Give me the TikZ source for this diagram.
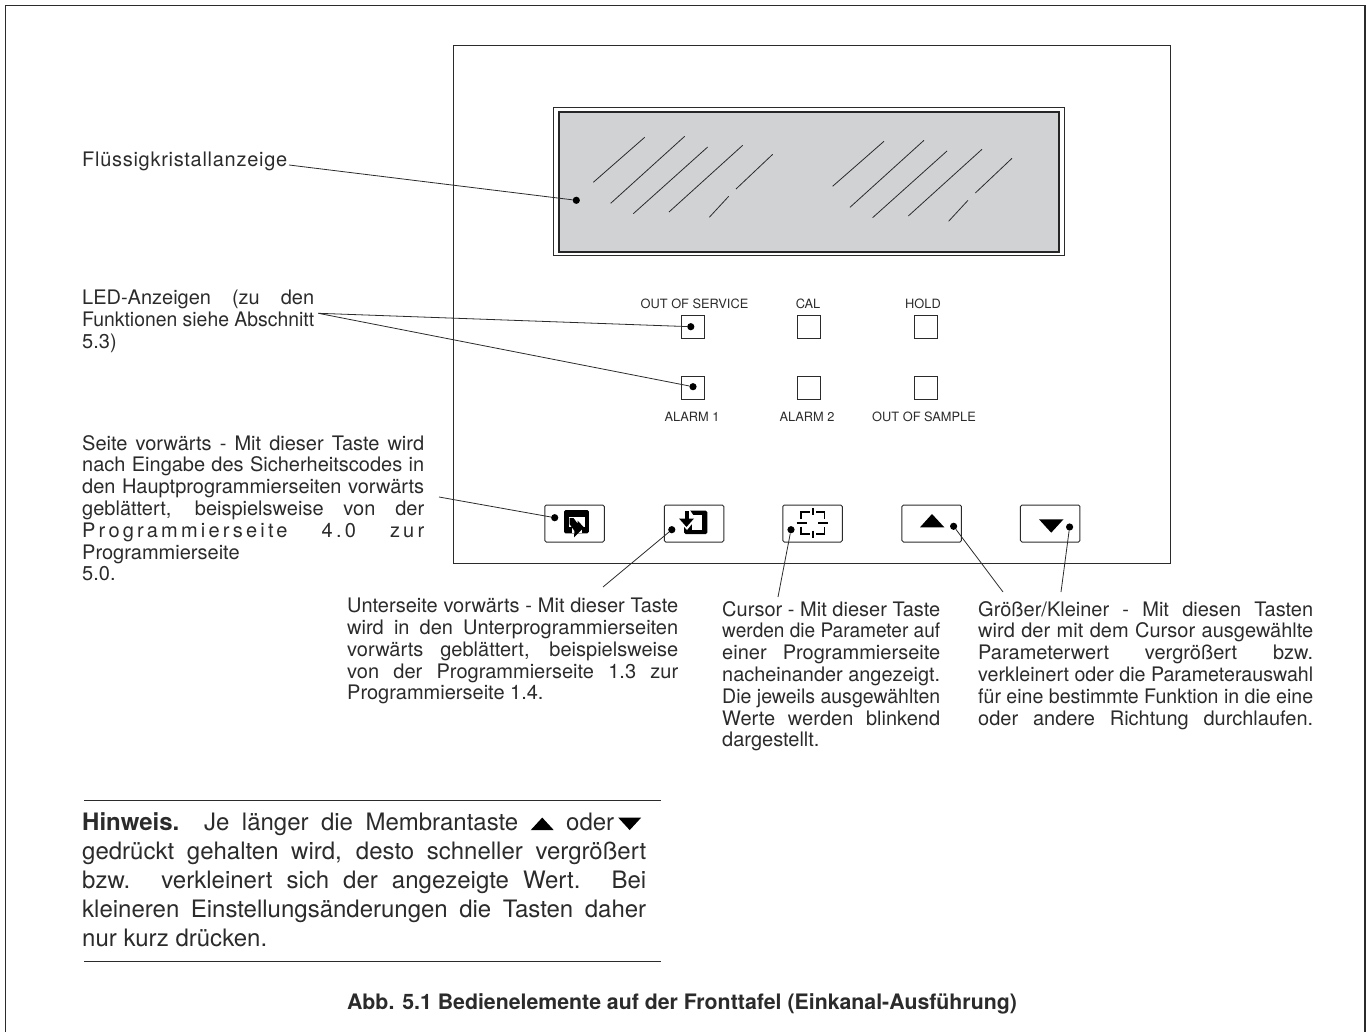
\documentclass[tikz,border=0pt]{standalone}
\usepackage{graphicx}
\usepackage{fontspec}
\setmainfont{TeX Gyre Heros}
\definecolor{lcdgray}{HTML}{D1D2D4}
\definecolor{inkgray}{HTML}{2B2B2B}
\newcommand{\looseset}{\tolerance=9999\relax\hbadness=10000\relax\hyphenpenalty=10000\relax}
\newcommand{\uptri}{\tikz[baseline=0pt,x=1pt,y=1pt]\fill[black] (0,0) -- (23,0) -- (11.5,12.5) -- cycle;}
\newcommand{\downtri}{\tikz[baseline=0pt,x=1pt,y=1pt]\fill[black] (0,12.5) -- (23,12.5) -- (11.5,0) -- cycle;}
\newsavebox\fitbox
\newcommand{\fitline}[1]{\sbox\fitbox{#1}\ifdim\wd\fitbox>\hsize\resizebox{\hsize}{\height}{\usebox\fitbox}\else\hbox to\hsize{#1}\fi}
\tikzset{
  bodytext/.style={anchor=north west,inner sep=0pt,align=justify,text=inkgray,
    font=\fontsize{20}{21.8}\selectfont\looseset},
  ledlabel/.style={inner sep=0pt,text=inkgray,font=\fontsize{12.8}{14}\selectfont},
  leddot/.style={circle,fill=black,inner sep=0pt,minimum size=7.2pt},
  ledbox/.style={rectangle,draw=inkgray,line width=0.9pt,inner sep=0pt,minimum size=23pt},
  keybox/.style={rectangle,rounded corners=1.5pt,draw=inkgray,line width=1pt,inner sep=0pt,
    minimum width=59.5pt,minimum height=37pt},
  leader/.style={draw=inkgray,line width=0.8pt},
  scratch/.style={draw=inkgray,line width=0.8pt},
  crossline/.style={draw=black,line width=1.7pt}
}
\begin{document}
\begin{tikzpicture}[x=1pt,y=-1pt]
\useasboundingbox (0,0) rectangle (1366,1032);

% page frame
\draw[inkgray,line width=1.6pt] (5.5,1032) -- (5.5,5.5) -- (1365,5.5) -- (1365,1032);

% panel
\draw[inkgray,line width=1pt] (453,46) rectangle (1170,563);

% liquid crystal display
\draw[inkgray,line width=0.9pt] (553.5,107.5) rectangle (1064,255.7);
\draw[black!85,line width=2pt,fill=lcdgray] (559,111.7) rectangle (1058.5,251.7);

% scratches, left group
\draw[scratch] (593.3,182.3) -- (644.7,137.3);
\draw[scratch] (610.7,203.3) -- (684.7,136.3);
\draw[scratch] (633.3,213.7) -- (707.7,147);
\draw[scratch] (669,212) -- (742.7,145.3);
\draw[scratch] (736,189) -- (772.7,154.3);
\draw[scratch] (709.3,217.3) -- (728.7,196.3);

% scratches, right group
\draw[scratch] (832.6,186.3) -- (884,141.3);
\draw[scratch] (850,207.3) -- (924,140.3);
\draw[scratch] (872.6,217.7) -- (947,151);
\draw[scratch] (908.3,216) -- (982,149.3);
\draw[scratch] (975.3,193) -- (1012,158.3);
\draw[scratch] (948.6,221.3) -- (968,200.3);

% led boxes
\node[ledbox] (ledservice) at (693,326.7) {};
\node[ledbox] (ledcal) at (809,326.7) {};
\node[ledbox] (ledhold) at (925.5,326.7) {};
\node[ledbox] (ledalarma) at (693,388) {};
\node[ledbox] (ledalarmb) at (809,388) {};
\node[ledbox] (ledsample) at (925.5,388) {};

% led labels
\node[ledlabel] (txtservice) at (694.5,303.5) {OUT OF SERVICE};
\node[ledlabel] (txtcal) at (808,303.5) {CAL};
\node[ledlabel] (txthold) at (923,303.5) {HOLD};
\node[ledlabel] (txtalarma) at (692,417) {ALARM 1};
\node[ledlabel] (txtalarmb) at (807,417) {ALARM 2};
\node[ledlabel] (txtsample) at (924,417) {OUT OF SAMPLE};

% keys
\node[keybox] (keypage) at (574.5,523.5) {};
\node[keybox] (keysub) at (694,523.5) {};
\node[keybox] (keycursor) at (812.5,523.5) {};
\node[keybox] (keyup) at (931.7,523.5) {};
\node[keybox] (keydown) at (1050.2,523.5) {};

% page key icon
\fill[black,rounded corners=1.5pt] (564,510) rectangle (588.8,533.3);
\fill[white] (568.5,516.7) rectangle (584.5,527);
\fill[white] (572,526) rectangle (582,533.4);
\fill[black] (569.5,518) -- (573.5,518) -- (577.5,523.5) -- (577.5,520.5) -- (584,527.5)
  -- (574,537.3) -- (574.5,531) -- (569.5,524) -- cycle;

% sub page key icon
\fill[black,rounded corners=1.5pt] (684,510.7) rectangle (707.4,534);
\fill[white] (691.5,514.5) rectangle (702,529.5);
\fill[white] (678,509) -- (689,509) -- (696,519) -- (687,530) -- (678,520) -- cycle;
\fill[black] (684.5,511) rectangle (688.5,518.5);
\fill[black] (679,518.5) -- (694,518.5) -- (686.5,527) -- cycle;

% cursor key icon
\draw[crossline] (801,519) -- (801,511.7) -- (809.5,511.7);
\draw[crossline] (816,511.7) -- (824.5,511.7) -- (824.5,519);
\draw[crossline] (801,526.5) -- (801,534) -- (809.5,534);
\draw[crossline] (816,534) -- (824.5,534) -- (824.5,526.5);
\draw[crossline] (812.7,508.3) -- (812.7,515);
\draw[crossline] (812.7,530.7) -- (812.7,538.3);
\draw[crossline] (796.7,522.7) -- (806.7,522.7);
\draw[crossline] (818.3,522.7) -- (828.3,522.7);

% up and down key icons
\fill[black] (920,527.3) -- (944.3,527.3) -- (932,514) -- cycle;
\fill[black] (1039,519.3) -- (1063.5,519.3) -- (1051.2,532.7) -- cycle;

% dots
\node[leddot] (dotlcd) at (576.3,200.3) {};
\node[leddot] (dotservice) at (690.8,326.7) {};
\node[leddot] (dotalarm) at (693,386.7) {};
\node[leddot] (dotpage) at (554.7,517.7) {};
\node[leddot] (dotsub) at (671.8,529.7) {};
\node[leddot] (dotcursor) at (791,529.7) {};
\node[leddot] (dotup) at (953.6,526.3) {};
\node[leddot] (dotdown) at (1069.6,527) {};

% side texts
\node[bodytext,text width=215pt] (txtlcd) at (82,152) {\addfontfeature{LetterSpace=3.6}Flüssigkristallanzeige};
\node[bodytext,text width=232pt] (txtled) at (82,290) {\fitline{LED-Anzeigen (zu den}\\
  \fitline{Funktionen siehe Abschnitt}\\ 5.3)};
\node[bodytext,text width=342pt] (txtpage) at (82,435) {\fitline{Seite vorwärts - Mit dieser Taste wird}\\
  \fitline{nach Eingabe des Sicherheitscodes in}\\
  \fitline{den Hauptprogrammierseiten vorwärts}\\
  \fitline{geblättert, beispielsweise von der}\\
  \fitline{\addfontfeature{LetterSpace=16}Programmierseite 4.0 zur}\\
  Programmierseite\\ 5.0.};
\node[bodytext,text width=331pt] (txtsub) at (347,598) {\fitline{Unterseite vorwärts - Mit dieser Taste}\\
  \fitline{wird in den Unterprogrammierseiten}\\
  \fitline{vorwärts geblättert, beispielsweise}\\
  \fitline{von der Programmierseite 1.3 zur}\\
  Programmierseite 1.4.};
\node[bodytext,text width=218pt] (txtcursor) at (722,601) {\fitline{Cursor - Mit dieser Taste}\\
  \fitline{werden die Parameter auf}\\
  \fitline{einer Programmierseite}\\
  \fitline{nacheinander angezeigt.}\\
  \fitline{Die jeweils ausgewählten}\\
  \fitline{Werte werden blinkend}\\
  dargestellt.};
\node[bodytext,text width=335pt] (txtkeys) at (978,601) {\fitline{Größer/Kleiner - Mit diesen Tasten}\\
  \fitline{wird der mit dem Cursor ausgewählte}\\
  \fitline{Parameterwert vergrößert bzw.}\\
  \fitline{verkleinert oder die Parameterauswahl}\\
  \fitline{für eine bestimmte Funktion in die eine}\\
  \fitline{oder andere Richtung durchlaufen.}};

% note
\draw[inkgray,line width=1pt] (84,800) -- (661,800);
\node[bodytext,text width=564pt,font=\fontsize{24}{29.2}\selectfont\looseset]
  (txtnote) at (82,812) {\fitline{\textbf{Hinweis.}\ \ Je länger die Membrantaste \uptri\ oder\,\downtri\hspace*{5pt}}\\
  \fitline{gedrückt gehalten wird, desto schneller vergrößert}\\
  \fitline{bzw. verkleinert sich der angezeigte Wert. Bei}\\
  \fitline{kleineren Einstellungsänderungen die Tasten daher}\\
  nur kurz drücken.};
\draw[inkgray,line width=1pt] (84,961) -- (661,961);

% caption
\node[inner sep=0pt,text=inkgray,font=\fontsize{21.3}{24}\selectfont\bfseries] (caption) at (682,1004)
  {Abb. 5.1 Bedienelemente auf der Fronttafel (Einkanal-Ausführung)};

% free ends of the leaders
\coordinate (endlcd) at (289,165);
\coordinate (endled) at (318.3,313.3);
\coordinate (endpage) at (439,497);
\coordinate (endsub) at (603,587);
\coordinate (endcursor) at (778,597);
\coordinate (endup) at (1003,592);
\coordinate (enddown) at (1061,592);

% leaders
\draw[leader] (endlcd) -- (dotlcd);
\draw[leader] (endled) -- (dotservice);
\draw[leader] (endled) -- (dotalarm);
\draw[leader] (endpage) -- (dotpage);
\draw[leader] (endsub) -- (dotsub);
\draw[leader] (endcursor) -- (dotcursor);
\draw[leader] (endup) -- (dotup);
\draw[leader] (enddown) -- (dotdown);

\end{tikzpicture}
\end{document}
